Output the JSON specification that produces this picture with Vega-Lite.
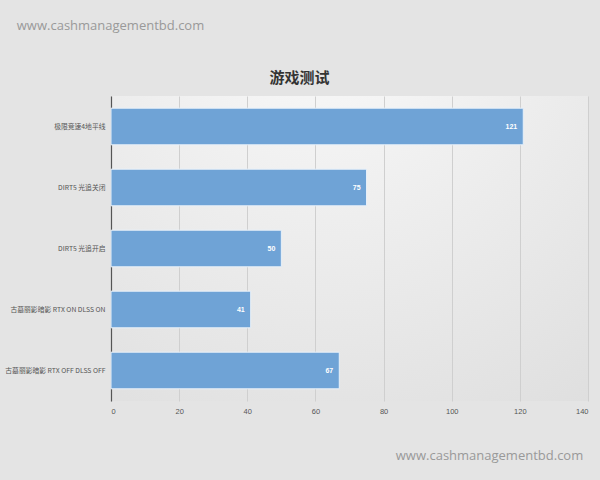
{
  "$schema": "https://vega.github.io/schema/vega-lite/v6.json",
  "autosize": "none",
  "width": 477,
  "height": 305,
  "padding": {"left": 111, "top": 96, "right": 12, "bottom": 79},
  "background": "#e4e4e4",
  "title": {
    "text": "游戏测试",
    "anchor": "middle",
    "dx": -50,
    "dy": 71,
    "font": "Noto Sans CJK SC",
    "fontSize": 15,
    "fontWeight": "bold",
    "color": "#333333"
  },
  "view": {
    "stroke": null,
    "fill": {
      "gradient": "radial",
      "x1": 0.45, "y1": 0.0, "r1": 0,
      "x2": 0.45, "y2": 0.0, "r2": 1.1,
      "stops": [
        {"offset": 0, "color": "#fafafa"},
        {"offset": 1, "color": "#dcdcdc"}
      ]
    }
  },
  "data": {
    "values": [
      {"game": "极限竞速4地平线", "fps": 121},
      {"game": "DIRT5 光追关闭", "fps": 75},
      {"game": "DIRT5 光追开启", "fps": 50},
      {"game": "古墓丽影暗影 RTX ON DLSS ON", "fps": 41},
      {"game": "古墓丽影暗影 RTX OFF DLSS OFF", "fps": 67}
    ]
  },
  "encoding": {
    "y": {
      "field": "game",
      "type": "nominal",
      "sort": null,
      "scale": {"paddingInner": 0.4, "paddingOuter": 0.2},
      "axis": {
        "title": "www.cashmanagementbd.com",
        "titleAngle": 0,
        "titleX": -1,
        "titleY": -71,
        "titleAlign": "center",
        "titleBaseline": "middle",
        "titleFont": "Open Sans",
        "titleFontSize": 13,
        "titleFontWeight": "normal",
        "titleColor": "#999999",
        "ticks": false,
        "domainColor": "#555555",
        "domainWidth": 1.2,
        "labelFont": "Noto Sans CJK SC",
        "labelFontSize": 6.8,
        "labelColor": "#555555",
        "labelPadding": 6,
        "labelLimit": 200
      }
    },
    "x": {
      "field": "fps",
      "type": "quantitative",
      "scale": {"domain": [0, 140]},
      "axis": {
        "values": [0, 20, 40, 60, 80, 100, 120, 140],
        "title": "www.cashmanagementbd.com",
        "titleX": 378,
        "titleY": 54,
        "titleAlign": "center",
        "titleBaseline": "middle",
        "titleFont": "Open Sans",
        "titleFontSize": 13,
        "titleFontWeight": "normal",
        "titleColor": "#999999",
        "grid": true,
        "gridColor": "#cfcfcf",
        "domain": false,
        "ticks": false,
        "labelFont": "Liberation Sans",
        "labelFontSize": 7.5,
        "labelColor": "#555555",
        "labelPadding": 6
      }
    }
  },
  "layer": [
    {
      "mark": {"type": "bar", "color": "#6fa3d6", "stroke": "#e8f1fa", "strokeWidth": 1}
    },
    {
      "mark": {
        "type": "text",
        "align": "right",
        "dx": -6,
        "color": "white",
        "font": "Liberation Sans",
        "fontSize": 7,
        "fontWeight": "bold"
      },
      "encoding": {"text": {"field": "fps", "type": "quantitative"}}
    }
  ]
}
